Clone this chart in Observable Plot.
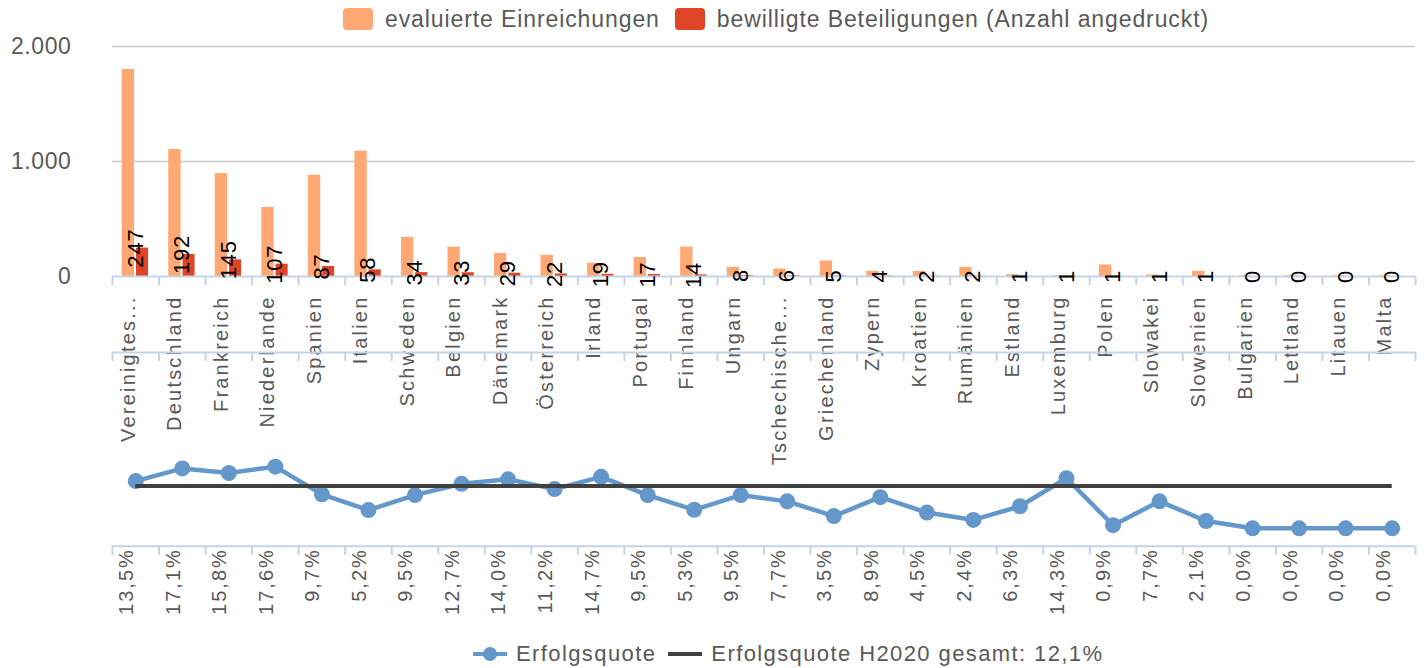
<!DOCTYPE html>
<html>
<head>
<meta charset="utf-8">
<script src="https://cdn.jsdelivr.net/npm/d3@7"></script>
<script src="https://cdn.jsdelivr.net/npm/@observablehq/plot@0.6"></script>
<style>
  html, body { margin: 0; padding: 0; background: #fff; }
  #root { position: relative; width: 1424px; height: 668px; overflow: hidden; font-family: "Liberation Sans", Arial, sans-serif; color: #595959; }
  .plotbox { position: absolute; left: 0; }
  .plotbox svg { overflow: visible; }
  .p1 [aria-label="x-axis tick label"] text { letter-spacing: 2.2px; }
  .p1 [aria-label="y-axis tick label"] text { letter-spacing: 0.6px; }
  .p1 [aria-label="text"] text { letter-spacing: 0.8px; }
  .p2 [aria-label="x-axis tick label"] text { letter-spacing: 2px; }
  .legend { position: absolute; display: flex; align-items: center; white-space: nowrap; }
  .sw { width: 30px; height: 22px; border-radius: 4px; display: inline-block; }
</style>
</head>
<body>
<div id="root">
  <div class="legend" id="legTop" style="left:343px; top:8px; height:22px; font-size:23px; letter-spacing:0.9px;">
    <span class="sw" style="background:#FFA873"></span>
    <span style="margin-left:12px">evaluierte Einreichungen</span>
    <span class="sw" style="background:#E04426; margin-left:15px"></span>
    <span style="margin-left:12px">bewilligte Beteiligungen (Anzahl angedruckt)</span>
  </div>
  <div class="plotbox p1" id="plot1" style="top:0px"></div>
  <div class="plotbox p2" id="plot2" style="top:340px"></div>
  <div class="legend" id="legBottom" style="left:473px; top:641px; height:26px; font-size:22px; letter-spacing:1.4px;">
    <span style="position:relative; width:34px; height:26px; display:inline-block;">
      <span style="position:absolute; left:0; top:11px; width:34px; height:4px; background:#6497CA"></span>
      <span style="position:absolute; left:10px; top:6px; width:14px; height:14px; border-radius:7px; background:#6497CA"></span>
    </span>
    <span style="margin-left:9px">Erfolgsquote</span>
    <span style="display:inline-block; width:34px; height:4px; background:#404040; margin-left:12px"></span>
    <span style="margin-left:9px">Erfolgsquote H2020 gesamt: 12,1%</span>
  </div>
</div>
<script>
// ---- Data ----
const countries = ["Vereinigtes Königreich","Deutschland","Frankreich","Niederlande","Spanien","Italien","Schweden","Belgien","Dänemark","Österreich","Irland","Portugal","Finnland","Ungarn","Tschechische Republik","Griechenland","Zypern","Kroatien","Rumänien","Estland","Luxemburg","Polen","Slowakei","Slowenien","Bulgarien","Lettland","Litauen","Malta"];
const countryLabels = ["Vereinigtes...","Deutschland","Frankreich","Niederlande","Spanien","Italien","Schweden","Belgien","Dänemark","Österreich","Irland","Portugal","Finnland","Ungarn","Tschechische...","Griechenland","Zypern","Kroatien","Rumänien","Estland","Luxemburg","Polen","Slowakei","Slowenien","Bulgarien","Lettland","Litauen","Malta"];
const evaluated = [1800,1105,895,600,880,1090,340,255,200,185,115,165,255,80,65,135,45,44,80,16,7,100,13,45,8,8,8,8];
const granted = [247,192,145,107,87,58,34,33,29,22,19,17,14,8,6,5,4,2,2,1,1,1,1,1,0,0,0,0];
const rates = [13.5,17.1,15.8,17.6,9.7,5.2,9.5,12.7,14.0,11.2,14.7,9.5,5.3,9.5,7.7,3.5,8.9,4.5,2.4,6.3,14.3,0.9,7.7,2.1,0.0,0.0,0.0,0.0];
const totalRate = 12.1;
const yTicks = [0, 1000, 2000];

// ---- Tables ----
const rows = countries.map((c, i) => ({country: c, evaluated: evaluated[i], granted: granted[i], rate: rates[i]}));

// ---- Style ----
const W = 1424, mL = 112, mR = 9;
const bw = (W - mL - mR) / countries.length;
const axisBlue = "#C5D5E6";
const grey = "#595959";
const font = "Liberation Sans, Arial, sans-serif";
const first = countries[0];
const last = countries[countries.length - 1];

function boundaryTicks(dy) {
  return [
    Plot.axisX({tickSize: 9, tickFormat: () => "", dx: -bw / 2, dy, stroke: axisBlue, strokeWidth: 2, label: null}),
    Plot.axisX([last], {tickSize: 9, tickFormat: () => "", dx: bw / 2, dy, stroke: axisBlue, strokeWidth: 2, label: null})
  ];
}

const deNum = d => d3.format(",")(d).replace(/,/g, ".");
const dePct = v => v.toFixed(1).replace(".", ",") + "%";

// ---- Plot 1: bars ----
const p1 = Plot.plot({
  width: W, height: 450,
  marginTop: 46, marginBottom: 174, marginLeft: mL, marginRight: mR,
  style: {fontFamily: font, background: "transparent", overflow: "visible"},
  x: {type: "band", domain: countries, padding: 0, round: false, axis: null, label: null},
  y: {domain: [0, 2000], axis: null, label: null},
  marks: [
    Plot.ruleY(yTicks.filter(d => d > 0), {stroke: "#C8C8C8", strokeWidth: 1.5}),
    Plot.axisY(yTicks, {tickSize: 0, tickPadding: 41, fontSize: 23, color: grey, tickFormat: deNum, label: null}),
    Plot.barY(rows, {x: "country", y: "evaluated", fill: "#FFA873", insetLeft: 9.7, insetRight: 24.5}),
    Plot.barY(rows, {x: "country", y: "granted", fill: "#E04426", insetLeft: 24, insetRight: 10.5}),
    Plot.ruleY([0], {stroke: axisBlue, strokeWidth: 2}),
    ...boundaryTicks(0),
    Plot.axisX({tickSize: 0, tickPadding: 19, tickRotate: -90, fontSize: 20, color: grey, label: null, dx: -7.5,
      tickFormat: d => countryLabels[countries.indexOf(d)]}),
    Plot.text(rows, {x: "country", y: "granted", text: d => String(d.granted), rotate: -90, fontSize: 22, fill: "#000"})
  ]
});
document.getElementById("plot1").appendChild(p1);

// ---- Plot 2: success rate ----
const h2 = 290, mT2 = 12, mB2 = 84.3;
const y2Domain = [-5.1, 50.2];
const p2 = Plot.plot({
  width: W, height: h2,
  marginTop: mT2, marginBottom: mB2, marginLeft: mL, marginRight: mR,
  style: {fontFamily: font, background: "transparent", overflow: "visible"},
  x: {type: "band", domain: countries, padding: 0, round: false, axis: null, label: null},
  y: {domain: y2Domain, axis: null, label: null},
  marks: [
    Plot.ruleY([y2Domain[1]], {stroke: axisBlue, strokeWidth: 2}),
    Plot.ruleY([y2Domain[0]], {stroke: axisBlue, strokeWidth: 2}),
    ...boundaryTicks(0),
    ...boundaryTicks(-(h2 - mT2 - mB2)),
    Plot.axisX({tickSize: 0, tickPadding: 2, tickRotate: -90, fontSize: 20, color: grey, label: null, dx: -9,
      tickFormat: d => dePct(rates[countries.indexOf(d)])}),
    Plot.line(rows, {x: "country", y: "rate", stroke: "#6497CA", strokeWidth: 4.5}),
    Plot.dot(rows, {x: "country", y: "rate", r: 8, fill: "#6497CA", stroke: "none"}),
    Plot.ruleY([totalRate], {x1: () => first, x2: () => last, y: d => d, insetLeft: bw / 2, insetRight: bw / 2, stroke: "#404040", strokeWidth: 4})
  ]
});
document.getElementById("plot2").appendChild(p2);
</script>
</body>
</html>
